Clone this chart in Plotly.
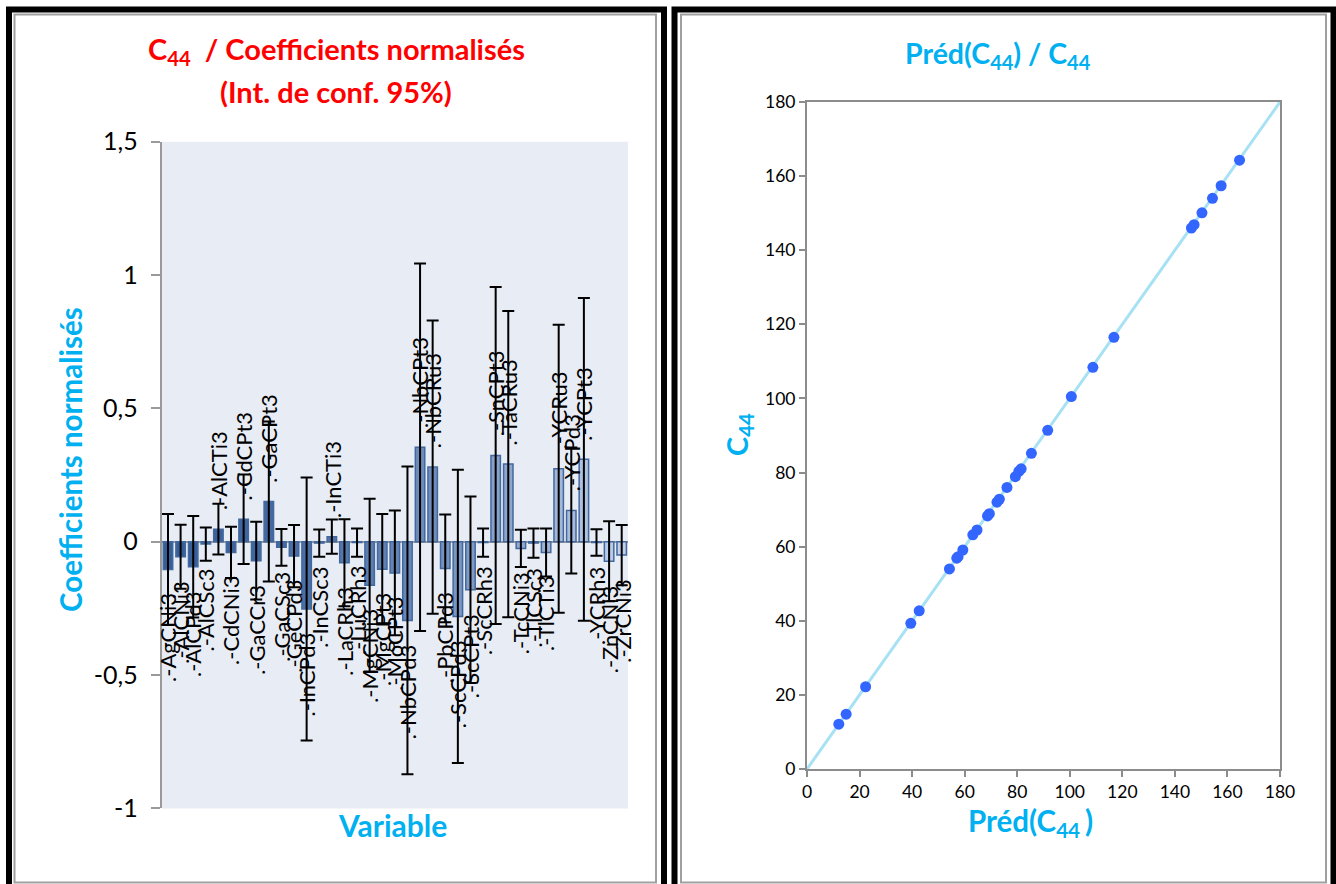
import plotly.graph_objects as go

# ---- data -----------------------------------------------------------------
variables = [
    "AgCNi3", "AlCNi3", "AlCPd3", "AlCSc3", "AlCTi3", "CdCNi3", "CdCPt3",
    "GaCCr3", "GaCPt3", "GaCSc3", "GeCPd3", "InCPd3", "InCSc3", "InCTi3",
    "LaCRh3", "LuCRh3", "MgCNi3", "MgCPt3", "MoCPt3", "NbCPd3", "NbCPt3",
    "NbCRu3", "PbCPd3", "ScCPd3", "ScCPt3", "ScCRh3", "SnCPt3", "TaCRu3",
    "TcCNi3", "TlCSc3", "TlCTi3", "YCRu3", "YCPd3", "YCPt3", "YCRh3",
    "ZnCNi3", "ZrCNi3",
]
coefficients = [
    -0.104, -0.056, -0.094, -0.009, 0.047, -0.040, 0.084,
    -0.071, 0.151, -0.021, -0.054, -0.252, -0.005, 0.019,
    -0.079, -0.003, -0.163, -0.103, -0.117, -0.295, 0.354,
    0.280, -0.100, -0.280, -0.180, -0.003, 0.323, 0.291,
    -0.025, -0.005, -0.040, 0.274, 0.117, 0.309, -0.003,
    -0.073, -0.050,
]
ci_half = [
    0.208, 0.120, 0.190, 0.062, 0.095, 0.096, 0.168,
    0.146, 0.300, 0.069, 0.117, 0.493, 0.051, 0.064,
    0.163, 0.053, 0.324, 0.207, 0.234, 0.577, 0.689,
    0.550, 0.202, 0.550, 0.350, 0.053, 0.632, 0.574,
    0.070, 0.055, 0.090, 0.540, 0.236, 0.605, 0.050,
    0.150, 0.113,
]
left_tickvals = [-1, -0.5, 0, 0.5, 1, 1.5]
left_ticktext = ["-1", "-0,5", "0", "0,5", "1", "1,5"]

pred_c44 = [
    12.1, 14.9, 22.3, 39.5, 42.7, 54.2, 57.0, 57.5, 59.3, 63.1,
    64.7, 68.7, 69.4, 72.3, 73.2, 76.1, 79.3, 80.6, 81.5, 85.4,
    91.6, 100.6, 108.8, 116.8, 146.3, 147.3, 150.3, 154.3, 157.6, 164.6,
]
obs_c44 = [
    12.1, 14.8, 22.2, 39.3, 42.7, 54.0, 56.9, 57.3, 59.1, 63.2,
    64.5, 68.3, 68.9, 72.0, 72.8, 76.0, 78.9, 80.3, 81.0, 85.2,
    91.4, 100.5, 108.4, 116.5, 146.0, 146.9, 150.1, 154.0, 157.4, 164.3,
]
diag = [0, 180]
right_tickvals = [0, 20, 40, 60, 80, 100, 120, 140, 160, 180]

# ---- helpers ----------------------------------------------------------------
W, H = 1336, 884
FONT = "Lato, 'Liberation Sans', sans-serif"
CYAN = "#00B0F0"
AXIS_GREY = "#9A9A9A"
SCATTER_GREY = "#8C8C8C"


def px(x):
    return x / W


def py(y):
    return 1 - y / H


n = len(variables)
dark, light = (56, 94, 152), (192, 208, 235)
bar_colors = []
for i in range(n):
    t = (i / (n - 1)) ** 1.6
    bar_colors.append("rgb(%d,%d,%d)" % tuple(round(dark[k] + (light[k] - dark[k]) * t) for k in range(3)))

fig = go.Figure()

# normalised coefficients with 95% confidence intervals
fig.add_trace(go.Bar(
    x=variables, y=coefficients,
    error_y=dict(type="data", array=ci_half, color="black", thickness=2, width=6),
    marker=dict(color=bar_colors, line=dict(color="#42699F", width=1.5)),
    xaxis="x", yaxis="y", showlegend=False, hoverinfo="x+y",
))

# predicted vs observed C44
fig.add_trace(go.Scatter(
    x=diag, y=diag, mode="lines",
    line=dict(color="#A6E1F4", width=3),
    xaxis="x2", yaxis="y2", showlegend=False, hoverinfo="skip",
))
fig.add_trace(go.Scatter(
    x=pred_c44, y=obs_c44, mode="markers",
    marker=dict(color="#3366FF", size=11),
    xaxis="x2", yaxis="y2", showlegend=False,
))

annotations = []
# variable names at the end of each bar
for name, v in zip(variables, coefficients):
    annotations.append(dict(
        x=name, y=v, xref="x", yref="y", text=".-" + name, textangle=-90,
        showarrow=False, xanchor="center",
        yanchor="bottom" if v >= 0 else "top",
        yshift=17 if v >= 0 else -22,
        font=dict(family=FONT, size=22, color="black"),
    ))


def label(x, y, text, size, color, angle=0):
    return dict(x=px(x), y=py(y), xref="paper", yref="paper", showarrow=False,
                xanchor="center", yanchor="middle", text=text, textangle=angle,
                font=dict(family=FONT, size=size, color=color))


# titles
annotations += [
    label(336, 50, "<b>C<sub>44</sub>  / Coefficients normalisés</b>", 29, "#FF0000"),
    label(336, 92, "<b>(Int. de conf. 95%)</b>", 29, "#FF0000"),
    label(70, 460, "<b>Coefficients normalisés</b>", 29.5, CYAN, -90),
    label(393, 825, "<b>Variable</b>", 30, CYAN),
    label(998, 55, "<b>Préd(C<sub>44</sub>) / C<sub>44</sub></b>", 28.5, CYAN),
    label(738, 435, "<b>C<sub>44</sub></b>", 29, CYAN, -90),
    label(1030, 822, "<b>Préd(C<sub>44 </sub>)</b>", 29.5, CYAN),
]

shapes = [
    # plot area background of the bar chart
    dict(type="rect", xref="x domain", yref="y domain", x0=0, x1=1, y0=0, y1=1,
         fillcolor="#E8ECF4", line=dict(width=0), layer="below"),
    # panel frames
    dict(type="rect", xref="paper", yref="paper",
         x0=px(9), x1=px(664), y0=py(9.5), y1=py(905),
         line=dict(color="black", width=6)),
    dict(type="rect", xref="paper", yref="paper",
         x0=px(14.5), x1=px(656), y0=py(14.5), y1=py(882.5),
         line=dict(color="#A0A0A0", width=2)),
    dict(type="rect", xref="paper", yref="paper",
         x0=px(674.5), x1=px(1333.5), y0=py(9.5), y1=py(905),
         line=dict(color="black", width=6)),
    dict(type="rect", xref="paper", yref="paper",
         x0=px(681), x1=px(1326), y0=py(14.5), y1=py(882.5),
         line=dict(color="#A0A0A0", width=2)),
]

left_dom_x = [px(161.7), px(628)]
left_dom_y = [py(808.4), py(141.7)]
right_dom_x = [px(807), px(1280)]
right_dom_y = [py(769), py(102)]

fig.update_layout(
    width=W, height=H,
    margin=dict(l=0, r=0, t=0, b=0, pad=0),
    paper_bgcolor="white", plot_bgcolor="white",
    font=dict(family=FONT, color="black"),
    bargap=0.25,
    showlegend=False,
    annotations=annotations,
    shapes=shapes,
    xaxis=dict(
        domain=left_dom_x, anchor="y", automargin=False,
        range=[-0.5, n - 0.5], showticklabels=False, ticks="",
        showline=False, showgrid=False, zeroline=False,
    ),
    yaxis=dict(
        domain=left_dom_y, anchor="x", automargin=False,
        range=[-1, 1.5], tickvals=left_tickvals, ticktext=left_ticktext,
        ticks="outside", ticklen=9, tickwidth=2, tickcolor=AXIS_GREY,
        showline=True, linecolor=AXIS_GREY, linewidth=2,
        showgrid=False, zeroline=True, zerolinecolor=AXIS_GREY, zerolinewidth=2,
        tickfont=dict(family=FONT, size=25, color="black"),
        ticklabelstandoff=8,
    ),
    # inner half of the crossing tick marks
    yaxis3=dict(
        domain=left_dom_y, anchor="x", overlaying="y", automargin=False,
        range=[-1, 1.5], tickvals=left_tickvals, showticklabels=False,
        ticks="inside", ticklen=8, tickwidth=2, tickcolor=AXIS_GREY,
        showline=False, showgrid=False, zeroline=False,
    ),
    xaxis2=dict(
        domain=right_dom_x, anchor="y2", automargin=False,
        range=[0, 180], tickvals=right_tickvals,
        ticks="outside", ticklen=6, tickwidth=2, tickcolor=SCATTER_GREY,
        showline=True, mirror=True, linecolor=SCATTER_GREY, linewidth=2,
        showgrid=False, zeroline=False,
        tickfont=dict(family=FONT, size=17.5, color="black"),
    ),
    yaxis2=dict(
        domain=right_dom_y, anchor="x2", automargin=False,
        range=[0, 180], tickvals=right_tickvals,
        ticks="outside", ticklen=6, tickwidth=2, tickcolor=SCATTER_GREY,
        showline=True, mirror=True, linecolor=SCATTER_GREY, linewidth=2,
        showgrid=False, zeroline=False,
        tickfont=dict(family=FONT, size=17.5, color="black"),
    ),
    xaxis3=dict(
        domain=right_dom_x, anchor="y2", overlaying="x2", automargin=False,
        range=[0, 180], tickvals=right_tickvals, showticklabels=False,
        ticks="inside", ticklen=5, tickwidth=2, tickcolor=SCATTER_GREY,
        showline=False, showgrid=False, zeroline=False,
    ),
    yaxis4=dict(
        domain=right_dom_y, anchor="x2", overlaying="y2", automargin=False,
        range=[0, 180], tickvals=right_tickvals, showticklabels=False,
        ticks="inside", ticklen=5, tickwidth=2, tickcolor=SCATTER_GREY,
        showline=False, showgrid=False, zeroline=False,
    ),
)

fig.write_html("out.html")
